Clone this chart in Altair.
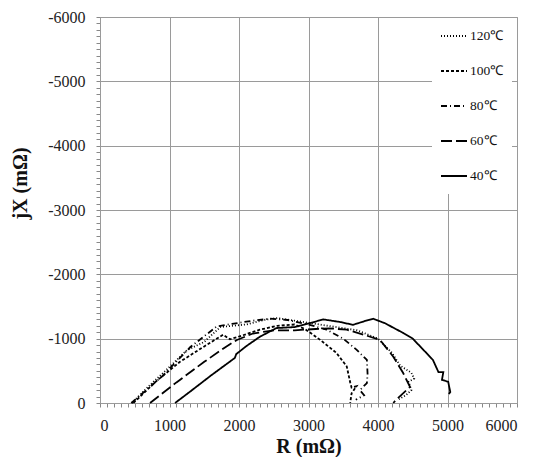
import altair as alt
import pandas as pd

temps = ["120℃", "100℃", "80℃", "60℃", "40℃"]

r_120 = [460, 700, 1000, 1250, 1500, 1730, 1900, 2100, 2350, 2550, 2800, 3100, 3400, 3700, 4000, 4200, 4320, 4480, 4520, 4440, 4480, 4400, 4300]
x_120 = [0, -260, -560, -820, -950, -1180, -1200, -1220, -1290, -1320, -1280, -1230, -1180, -1130, -1000, -780, -580, -470, -380, -330, -200, -120, -60]

r_100 = [480, 800, 1150, 1500, 1770, 1870, 2020, 2300, 2550, 2800, 2950, 3170, 3400, 3550, 3600, 3620, 3690, 3620, 3600]
x_100 = [0, -330, -640, -880, -1060, -990, -1040, -1140, -1200, -1220, -1150, -980, -780, -570, -320, -240, -260, -150, 0]

r_80 = [450, 900, 1300, 1680, 1900, 2200, 2450, 2700, 3000, 3260, 3500, 3690, 3840, 3850, 3840, 3740, 3800, 3680]
x_80 = [0, -420, -870, -1190, -1230, -1280, -1310, -1290, -1220, -1140, -1000, -830, -670, -450, -310, -200, -120, -50]

r_60 = [720, 1100, 1500, 1820, 1970, 2200, 2500, 2800, 3100, 3300, 3550, 3800, 4030, 4220, 4360, 4460, 4270, 4220]
x_60 = [0, -320, -640, -880, -980, -1080, -1130, -1130, -1150, -1160, -1140, -1060, -980, -720, -470, -250, -60, 0]

r_40 = [1080, 1300, 1600, 1940, 1960, 2100, 2300, 2540, 2800, 3020, 3210, 3450, 3640, 3800, 3930, 4100, 4360, 4500, 4650, 4790, 4870, 4940, 4920, 5010, 5040, 5020]
x_40 = [0, -180, -430, -700, -760, -880, -1030, -1165, -1180, -1240, -1300, -1260, -1215, -1270, -1310, -1240, -1090, -1000, -830, -670, -480, -480, -360, -330, -170, -140]

series = {"120℃": (r_120, x_120), "100℃": (r_100, x_100), "80℃": (r_80, x_80),
          "60℃": (r_60, x_60), "40℃": (r_40, x_40)}

rows = []
for t in temps:
    rs, xs = series[t]
    for i, (r, x) in enumerate(zip(rs, xs)):
        rows.append({"temp": t, "R": r, "X": x, "idx": i})
df = pd.DataFrame(rows)

dashes = [[1, 2], [3, 2], [6, 3, 1, 3], [11, 4], [1, 0]]

serif = "Liberation Serif"
major = "datum.value % 1000 === 0"
grid_col = "#9a9a9a"

x_axis = alt.Axis(
    values=list(range(0, 6001, 100)),
    labelExpr=f"{major} ? format(datum.value, 'd') : ''",
    labelOverlap=False,
    gridOpacity={"condition": {"test": major, "value": 1}, "value": 0},
    tickSize=4, tickWidth=1,
    gridColor=grid_col, domainColor=grid_col, tickColor="#888",
    labelFont=serif, labelFontSize=16, labelColor="#222", labelPadding=10,
    title="R (mΩ)", titleFont=serif, titleFontSize=20, titleFontWeight="bold",
    titleColor="#111", titleY=33, titleBaseline="top",
)
y_axis = alt.Axis(
    values=list(range(-6000, 1, 100)),
    labelExpr=f"{major} ? (datum.value === 0 ? '0' : '-' + format(-datum.value, 'd')) : ''",
    labelOverlap=False,
    gridOpacity={"condition": {"test": major, "value": 1}, "value": 0},
    tickSize=4, tickWidth=1,
    gridColor=grid_col, domainColor=grid_col, tickColor="#888",
    labelFont=serif, labelFontSize=16, labelColor="#222", labelPadding=11,
    title="jX (mΩ)", titleFont=serif, titleFontSize=20, titleFontWeight="bold",
    titleColor="#111", titleX=-80, titleY=166, titleBaseline="middle", titleAlign="center",
)

legend = alt.Legend(
    title=None, orient="none", legendX=332, legendY=1,
    fillColor="white", padding=8, symbolType="stroke", symbolSize=676,
    symbolStrokeWidth=1.8, symbolStrokeColor="black", clipHeight=20, rowPadding=15,
    labelFont=serif, labelFontSize=13.5, labelColor="#111", labelOffset=2,
    labelExpr="datum.label + '\u2002\u2002\u2002\u2002'",
)

chart = alt.Chart(df).mark_line(color="black", strokeWidth=1.8).encode(
    x=alt.X("R:Q", scale=alt.Scale(domain=[0, 6000], nice=False), axis=x_axis),
    y=alt.Y("X:Q", scale=alt.Scale(domain=[-6000, 0], reverse=True, nice=False), axis=y_axis),
    strokeDash=alt.StrokeDash("temp:N", scale=alt.Scale(domain=temps, range=dashes), legend=legend),
    detail="temp:N",
    order=alt.Order("idx:Q"),
).properties(
    width=417, height=386,
    autosize=alt.AutoSizeParams(type="none"),
    padding={"left": 100, "top": 17, "right": 17, "bottom": 54},
    background="white",
).configure_view(stroke=grid_col)

chart.save("out.html", embed_options={"renderer": "svg", "actions": False})
